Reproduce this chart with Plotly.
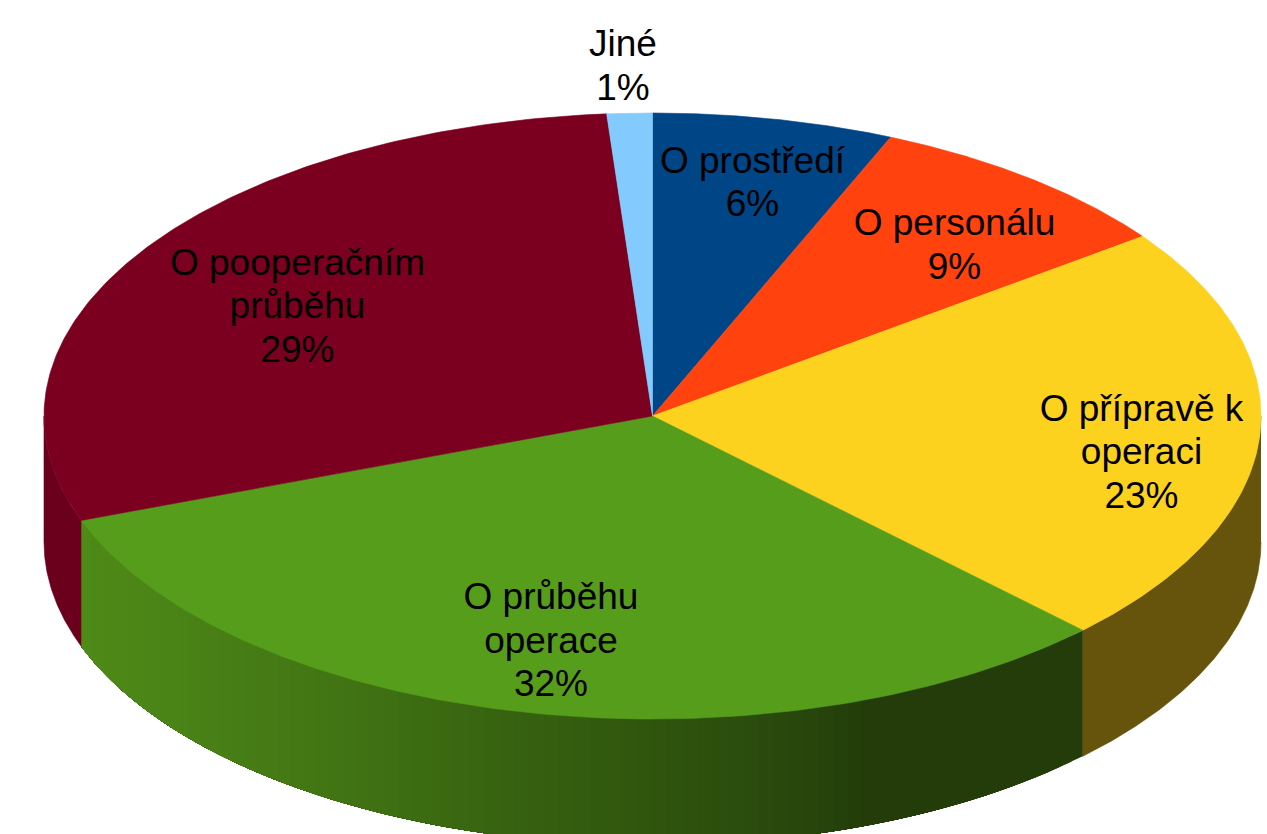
import numpy as np
import plotly.graph_objects as go

categories = [["O prostředí"], ["O personálu"], ["O přípravě k", "operaci"], ["O průběhu", "operace"],
              ["O pooperačním", "průběhu"], ["Jiné"]]
values = [6.4, 8.5, 22.6, 31.9, 29.4, 1.2]
percent_labels = ["6%", "9%", "23%", "32%", "29%", "1%"]
top_colors = ["#004586", "#FF420E", "#FCD21F", "#579D1C", "#7B0020", "#83CAFF"]
wall_colors = ["#002A50", "#99280A", "#66530C", None, "#6A001C", "#4F799A"]
green_wall_x = [81, 330, 500, 650, 800, 880, 1083]
green_wall_rgb = [(79, 139, 24), (66, 118, 20), (56, 100, 16), (48, 86, 14), (40, 72, 12), (35, 60, 10), (35, 60, 10)]
label_x = [752.5, 954.5, 1141.5, 551, 297.5, 623]
label_y = [182, 244.5, 452, 640.5, 306, 65.5]

CX, CY, RX, RY, DEPTH = 652.5, 416, 608.5, 303, 126
LINE_STEP, TEXT_NUDGE = 43.5, 3


def ell(frac):
    a = 2 * np.pi * np.asarray(frac)
    return CX + RX * np.sin(a), CY - RY * np.cos(a)


fig = go.Figure()
fractions = np.cumsum([0] + values) / sum(values)


def poly(x, y, color, width=0.6):
    fig.add_trace(go.Scatter(x=x, y=y, mode="lines", fill="toself", fillcolor=color,
                             line=dict(color=color, width=width), hoverinfo="skip", showlegend=False))


# Walls of the visible front half
for i, (a, b) in enumerate(zip(fractions[:-1], fractions[1:])):
    lo, hi = max(a, 0.25), min(b, 0.75)
    if hi <= lo:
        continue
    if wall_colors[i] is None:
        # each strip runs to the far end of the wall, the next one paints over it: no seams
        for p in np.linspace(lo, hi, 80)[:-1]:
            x, y = ell(np.linspace(p, hi, 50))
            start = ell(p)[0]
            rgb = [round(np.interp(start, green_wall_x, [c[k] for c in green_wall_rgb])) for k in range(3)]
            poly(np.r_[x, x[::-1]], np.r_[y, y[::-1] + DEPTH], f"rgb({rgb[0]},{rgb[1]},{rgb[2]})", 0)
    else:
        x, y = ell(np.linspace(lo, hi, 120))
        poly(np.r_[x, x[::-1]], np.r_[y, y[::-1] + DEPTH], wall_colors[i])

# Top faces
for i, (a, b) in enumerate(zip(fractions[:-1], fractions[1:])):
    x, y = ell(np.linspace(a, b, 160))
    poly(np.r_[CX, x, CX], np.r_[CY, y, CY], top_colors[i])

# One text point per line so that the line spacing can follow the reference
xs, ys, texts = [], [], []
for cat, pct, lx, ly in zip(categories, percent_labels, label_x, label_y):
    lines = cat + [pct]
    for k, line in enumerate(lines):
        xs.append(lx)
        ys.append(ly + TEXT_NUDGE + (k - (len(lines) - 1) / 2) * LINE_STEP)
        texts.append(line)

fig.add_trace(go.Scatter(
    x=xs, y=ys, mode="text", text=texts, textposition="middle center",
    textfont=dict(family="Liberation Sans", size=37, color="#000000"),
    hoverinfo="skip", showlegend=False))

fig.update_layout(
    width=1267, height=834, margin=dict(l=0, r=0, t=0, b=0),
    paper_bgcolor="white", plot_bgcolor="white",
    xaxis=dict(range=[0, 1267], visible=False, fixedrange=True),
    yaxis=dict(range=[834, 0], visible=False, fixedrange=True),
)
fig.write_html("out.html", config={"displayModeBar": False},
               post_script="document.body.style.margin='0';document.body.style.overflow='hidden';")
